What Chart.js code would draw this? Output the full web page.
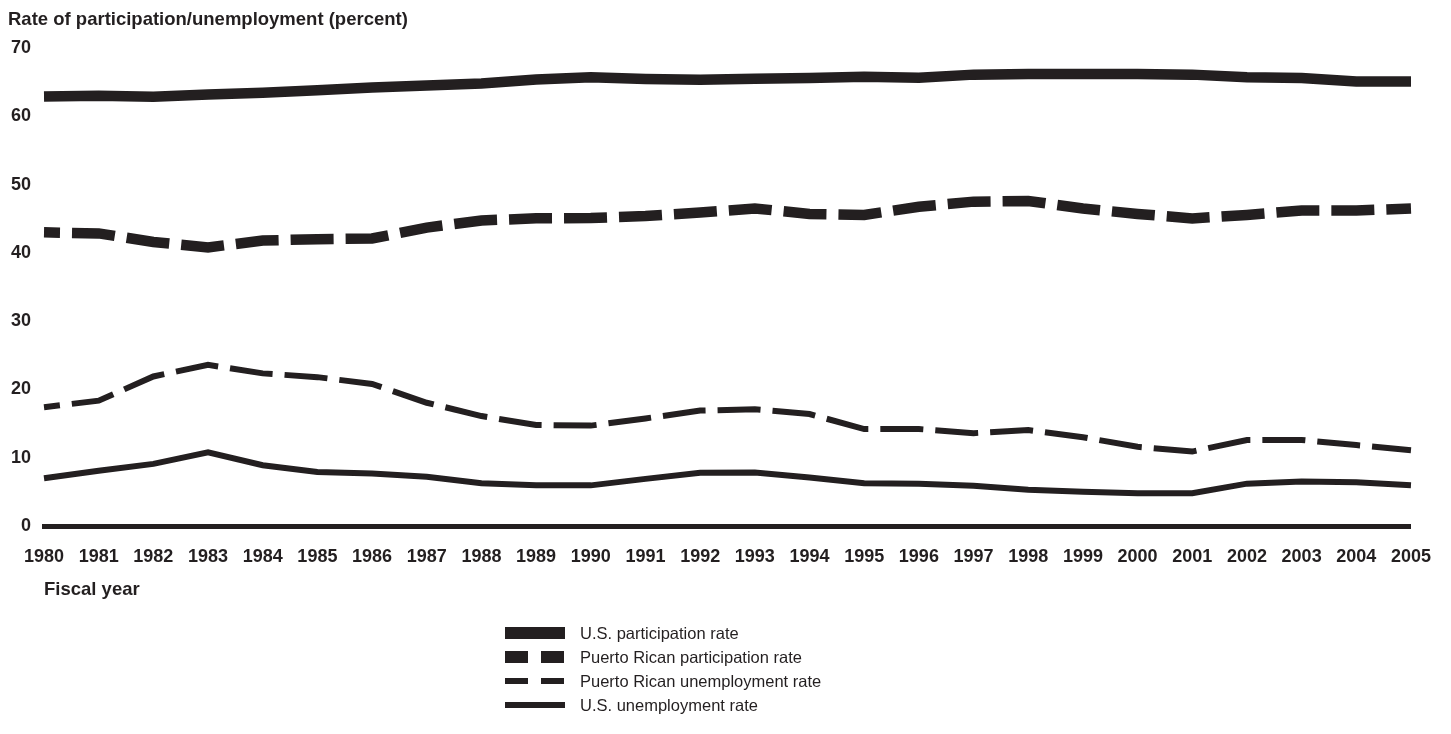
<!DOCTYPE html>
<html>
<head>
<meta charset="utf-8">
<title>Participation and unemployment rates</title>
<script src="https://cdn.jsdelivr.net/npm/chart.js"></script>
<style>
    html, body { margin: 0; padding: 0; background: #fff; }
    #wrap { width: 1451px; height: 734px; position: relative; }
</style>
</head>
<body>
<div id="wrap"><canvas id="myChart"></canvas></div>
<script>
// data
const years = ['1980', '1981', '1982', '1983', '1984', '1985', '1986', '1987', '1988', '1989', '1990', '1991', '1992',
    '1993', '1994', '1995', '1996', '1997', '1998', '1999', '2000', '2001', '2002', '2003', '2004', '2005'];
const usParticipation = [62.9, 63.0, 62.85, 63.2, 63.45, 63.8, 64.2, 64.5, 64.8, 65.4, 65.7, 65.45, 65.35,
    65.5, 65.6, 65.8, 65.65, 66.1, 66.2, 66.2, 66.2, 66.1, 65.7, 65.6, 65.1, 65.1];
const prParticipation = [43.0, 42.85, 41.6, 40.8, 41.8, 42.0, 42.1, 43.7, 44.75, 45.05, 45.1, 45.4, 45.9,
    46.5, 45.7, 45.55, 46.75, 47.5, 47.6, 46.5, 45.7, 45.05, 45.55, 46.2, 46.2, 46.5];
const prUnemployment = [17.4, 18.35, 21.9, 23.6, 22.35, 21.8, 20.8, 18.05, 16.1, 14.8, 14.7, 15.75, 16.9,
    17.1, 16.4, 14.2, 14.2, 13.6, 14.05, 13.0, 11.6, 10.9, 12.6, 12.6, 11.85, 11.1];
const usUnemployment = [7.0, 8.1, 9.1, 10.8, 8.9, 7.9, 7.7, 7.2, 6.25, 5.95, 5.95, 6.9, 7.8,
    7.85, 7.1, 6.25, 6.2, 5.9, 5.3, 5.0, 4.8, 4.8, 6.2, 6.5, 6.4, 5.95];
const yTicks = [0, 10, 20, 30, 40, 50, 60, 70];

const ink = '#231f20';
const fontFamily = "'Liberation Sans', Arial, Helvetica, sans-serif";

// axis titles + the stacked legend under the plot
const extraText = {
    id: 'extraText',
    afterDraw: function (chart) {
        const ctx = chart.ctx;
        ctx.save();
        ctx.fillStyle = ink;
        ctx.textBaseline = 'middle';
        ctx.textAlign = 'left';
        ctx.font = 'bold 18.5px ' + fontFamily;
        ctx.fillText('Rate of participation/unemployment (percent)', 8, 20);
        ctx.fillText('Fiscal year', 44, 590);

        ctx.font = '16.5px ' + fontFamily;
        chart.data.datasets.forEach(function (ds, i) {
            const y = 633 + i * 24;
            ctx.strokeStyle = ds.borderColor;
            ctx.lineWidth = ds.legendWidth;
            ctx.lineCap = 'butt';
            ctx.setLineDash(ds.legendDash);
            ctx.beginPath();
            ctx.moveTo(505, y);
            ctx.lineTo(565, y);
            ctx.stroke();
            ctx.setLineDash([]);
            ctx.fillText(ds.label, 580, y + 1);
        });
        ctx.restore();
    }
};

function line(label, values, width, dash, legendWidth, legendDash) {
    return {
        label: label,
        data: values,
        borderColor: ink,
        backgroundColor: ink,
        borderWidth: width,
        borderDash: dash,
        borderDashOffset: dash.length ? 27 : 0,
        borderCapStyle: 'butt',
        pointRadius: 0,
        tension: 0,
        fill: false,
        legendWidth: legendWidth,
        legendDash: legendDash
    };
}

const ctx = document.getElementById('myChart').getContext('2d');
const myChart = new Chart(ctx, {
    type: 'line',
    data: {
        labels: years,
        datasets: [
            line('U.S. participation rate', usParticipation, 10.5, [], 12, []),
            line('Puerto Rican participation rate', prParticipation, 10.5, [43, 12], 12, [23, 13]),
            line('Puerto Rican unemployment rate', prUnemployment, 6, [43, 12], 6, [23, 13]),
            line('U.S. unemployment rate', usUnemployment, 6, [], 6, [])
        ]
    },
    options: {
        responsive: true,
        maintainAspectRatio: false,
        animation: false,
        layout: {
            padding: { top: 48, right: 37, bottom: 158, left: 0 }
        },
        plugins: {
            legend: { display: false },
            tooltip: { enabled: false }
        },
        scales: {
            x: {
                type: 'category',
                offset: false,
                grid: { display: false, drawTicks: false },
                border: { display: true, width: 5, color: ink },
                ticks: {
                    color: ink,
                    font: { family: fontFamily, size: 18, weight: 'bold' },
                    padding: 20,
                    maxRotation: 0,
                    autoSkip: false
                },
                afterFit: function (scale) { scale.height = 50; }
            },
            y: {
                min: 0,
                max: 70,
                grid: { display: false, drawTicks: false },
                border: { display: false },
                afterBuildTicks: function (scale) {
                    scale.ticks = yTicks.map(function (v) { return { value: v }; });
                },
                ticks: {
                    color: ink,
                    font: { family: fontFamily, size: 18, weight: 'bold' },
                    padding: 13,
                    crossAlign: 'near'
                },
                afterFit: function (scale) { scale.width = 44; }
            }
        }
    },
    plugins: [extraText]
});
</script>
</body>
</html>
